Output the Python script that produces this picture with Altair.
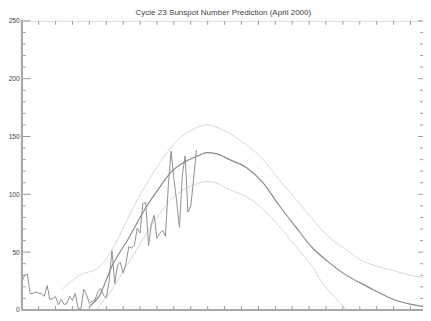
import altair as alt
import pandas as pd

TITLE = "Cycle 23 Sunspot Number Prediction (April 2000)"

# Monthly sunspot numbers, Jan 1995 .. Mar 2000
obs_start = 1995.0
obs_values = [
    24.2, 29.9, 31.1, 14.0, 14.5, 15.6, 14.5, 14.3, 11.8, 21.1, 9.0, 10.0,
    11.5, 4.4, 9.2, 4.8, 5.5, 11.8, 8.2, 14.4, 1.6, 0.9, 17.9, 13.3,
    5.7, 7.6, 8.7, 15.5, 18.5, 12.7, 10.4, 24.4, 51.3, 22.8, 39.0, 41.2,
    31.9, 40.3, 54.8, 53.4, 56.3, 70.7, 66.6, 92.2, 92.9, 55.5, 74.0, 81.9,
    62.0, 66.3, 68.8, 63.7, 106.4, 137.4, 113.5, 93.7, 71.5, 116.7, 133.2, 84.6,
    90.1, 112.9, 138.5,
]

# Predicted smoothed curve
mid_years = [1997.0, 1997.29, 1997.67, 1998.16, 1998.66, 1999.03, 1999.41, 1999.82,
             2000.19, 2000.48, 2000.77, 2001.15, 2001.65, 2002.14, 2002.6, 2003.1,
             2003.59, 2004.05, 2004.55, 2005.04, 2005.5, 2006.0, 2006.49, 2006.87]
mid_values = [3, 12, 38, 62, 88, 104, 119, 128,
              133, 136, 135, 130, 123, 110, 91, 72,
              54, 42, 31, 23, 16, 9, 5, 3]

# Upper bound
up_years = [1996.19, 1996.71, 1997.29, 1997.67, 1998.25, 1999.03, 1999.61, 1999.99,
            2000.48, 2000.77, 2001.44, 2002.14, 2002.6, 2003.1, 2003.59, 2004.05,
            2004.55, 2005.04, 2005.5, 2006.0, 2006.49, 2006.87]
up_values = [18, 30, 37, 52, 86, 125, 147, 155,
             160, 158, 147, 130, 113, 96, 79, 64,
             53, 43, 38, 34, 30, 28]

# Lower bound
low_years = [1997.2, 1997.58, 1998.25, 1998.95, 1999.47, 1999.99, 2000.48, 2000.83,
             2001.15, 2001.65, 2002.14, 2002.6, 2003.1, 2003.39, 2003.59, 2003.88,
             2004.26, 2004.61]
low_values = [0, 14, 45, 78, 97, 107, 111, 109,
              104, 98, 87, 73, 55, 45, 38, 24,
              11, 0]

y_major = [0, 50, 100, 150, 200, 250]
y_minor = [v for v in range(0, 251, 10) if v % 50 != 0]
x_ticks = [1995 + 0.5 * k for k in range(1, 24)]

X_DOMAIN = [1995.0, 2006.87]
W, H = 408, 294

obs = pd.DataFrame({
    "t": [obs_start + i / 12 for i in range(len(obs_values))],
    "v": obs_values,
})
mid = pd.DataFrame({"t": mid_years, "v": mid_values})
up = pd.DataFrame({"t": up_years, "v": up_values})
low = pd.DataFrame({"t": low_years, "v": low_values})

xs = alt.Scale(domain=X_DOMAIN, nice=False, zero=False)
ys = alt.Scale(domain=[0, 250], nice=False)
yaxis = alt.Axis(values=y_major, ticks=False, domain=False, grid=False,
                 labelFontSize=6.8, labelFont="Liberation Sans", labelColor="#444",
                 labelPadding=2.5, title=None)

def X(field="t"):
    return alt.X(f"{field}:Q", scale=xs, axis=None)

def Y(field="v"):
    return alt.Y(f"{field}:Q", scale=ys, axis=yaxis)

def curve(df, color, width, interp="linear"):
    return alt.Chart(df).mark_line(color=color, strokeWidth=width, clip=True,
                                   interpolate=interp).encode(x=X(), y=Y())

bounds_up = curve(up, "#d6d6d6", 1, "monotone")
bounds_low = curve(low, "#d6d6d6", 1, "monotone")
mid_line = curve(mid, "#8a8a8a", 1.2, "monotone")
obs_line = curve(obs, "#8f8f8f", 1)

ymaj = pd.DataFrame({"v": y_major})
ymin = pd.DataFrame({"v": y_minor})
xt = pd.DataFrame({"t": x_ticks})

TICK = "#9a9a9a"
left_major = alt.Chart(ymaj).mark_rule(color=TICK, strokeWidth=1).encode(
    y=Y(), x=alt.value(0), x2=alt.value(9))
left_minor = alt.Chart(ymin).mark_rule(color=TICK, strokeWidth=1).encode(
    y=Y(), x=alt.value(0), x2=alt.value(4))
right_major = alt.Chart(ymaj).mark_rule(color=TICK, strokeWidth=1).encode(
    y=Y(), x=alt.value(W - 5), x2=alt.value(W))
right_minor = alt.Chart(ymin).mark_rule(color=TICK, strokeWidth=1).encode(
    y=Y(), x=alt.value(W - 3), x2=alt.value(W))
bottom_t = alt.Chart(xt).mark_rule(color=TICK, strokeWidth=1).encode(
    x=X(), y=alt.value(H), y2=alt.value(H - 4))
top_t = alt.Chart(xt).mark_rule(color=TICK, strokeWidth=1).encode(
    x=X(), y=alt.value(0), y2=alt.value(4))
frame_lb = alt.Chart(ymaj).mark_rule(color="#a8a8a8", strokeWidth=1.6).encode(
    x=alt.value(0), y=alt.value(0), y2=alt.value(H))
frame_b = alt.Chart(ymaj).mark_rule(color="#a8a8a8", strokeWidth=1.6).encode(
    x=alt.value(0), x2=alt.value(W), y=alt.value(H))

title_df = pd.DataFrame({"label": [TITLE]})
title = alt.Chart(title_df).mark_text(
    font="Liberation Sans", fontSize=8.2, color="#444", align="center", baseline="middle"
).encode(text="label:N", x=alt.value(W / 2 + 1), y=alt.value(-8))

chart = alt.layer(
    bounds_up, bounds_low, obs_line, mid_line,
    left_major, left_minor, right_major, right_minor, bottom_t, top_t,
    frame_lb, frame_b, title,
).properties(
    width=W, height=H,
    padding={"left": 14, "top": 10.5, "right": 0, "bottom": 0},
    autosize=alt.AutoSizeParams(type="none"),
).configure_view(stroke="#b0b0b0", strokeWidth=1).configure(background="white")

chart.save("out.html", embed_options={"renderer": "svg", "actions": False})
